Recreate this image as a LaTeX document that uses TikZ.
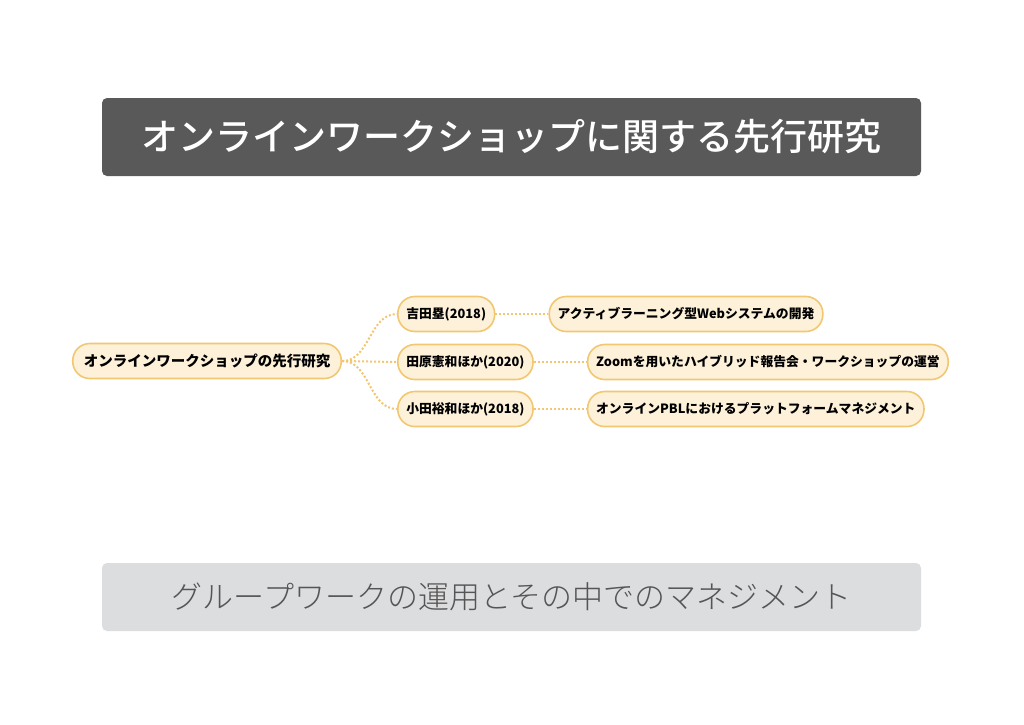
\documentclass[tikz,border=0pt]{standalone}
\usepackage{fontspec}
\setmainfont{Noto Sans CJK JP}
\newfontfamily\lightcjk{Noto Sans CJK JP Light}
\newfontfamily\mediumcjk{Noto Sans CJK JP Medium}
\usepackage{tikz}
\usetikzlibrary{positioning}

\definecolor{TitleGray}{HTML}{595959}
\definecolor{FootGray}{HTML}{DCDDDF}
\definecolor{FootText}{HTML}{555555}
\definecolor{MapFill}{HTML}{FDF1D9}
\definecolor{MapLine}{HTML}{F2C772}

\begin{document}
\begin{tikzpicture}[
x=1pt, y=-1pt,
node distance=53pt,
bar/.style={rounded corners=5pt, minimum width=819pt, align=center},
mapbox/.style={draw=MapLine, line width=1.6pt, fill=MapFill, rounded corners=17pt, minimum height=35pt, inner xsep=8.5pt, font=\fontsize{12.8}{15}\selectfont\bfseries},
link/.style={MapLine, line width=2pt, dotted}
]
\useasboundingbox[fill=white] (0,0) rectangle (1024,724);
\node[bar, fill=TitleGray, text=white, minimum height=78pt, font=\fontsize{37}{40}\selectfont\mediumcjk] (title) at (511.5,137) {オンラインワークショップに関する先行研究};
\node[bar, fill=FootGray, text=FootText, minimum height=68pt, font=\fontsize{31}{34}\selectfont\lightcjk] (foot) at (511.5,597) {グループワークの運用とその中でのマネジメント};
% mind map
\node[mapbox, font=\fontsize{14.5}{17}\selectfont\bfseries, inner xsep=11pt] (root) at (207,361) {オンラインワークショップの先行研究};
\node[mapbox, anchor=west] (yoshida) at (397,314) {吉田塁(2018)};
\node[mapbox, anchor=west] (tahara) at (397,362) {田原憲和ほか(2020)};
\node[mapbox, anchor=west] (oda) at (397,409) {小田裕和ほか(2018)};
\node[mapbox, right=of yoshida] (web) {アクティブラーニング型Webシステムの開発};
\node[mapbox, right=of tahara] (zoom) {Zoomを用いたハイブリッド報告会・ワークショップの運営};
\node[mapbox, right=of oda] (pbl) {オンラインPBLにおけるプラットフォームマネジメント};
\draw[link] (root.east) to[out=0, in=180] (yoshida.west);
\draw[link] (root.east) -- (tahara.west);
\draw[link] (root.east) to[out=0, in=180] (oda.west);
\draw[link] (yoshida) -- (web);
\draw[link] (tahara) -- (zoom);
\draw[link] (oda) -- (pbl);
\end{tikzpicture}
\end{document}
